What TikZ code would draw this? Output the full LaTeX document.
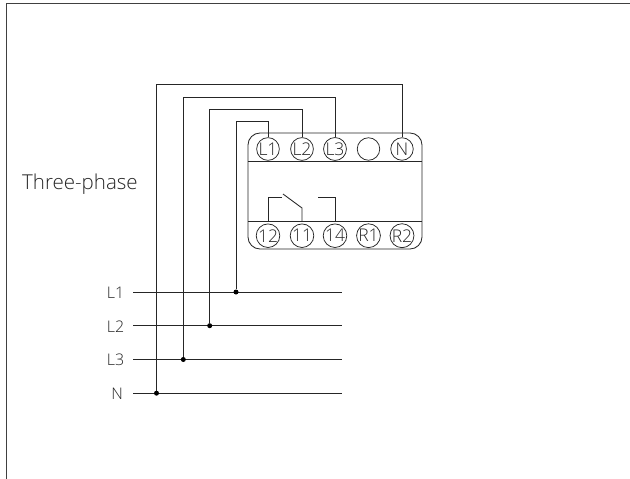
\documentclass[tikz,border=0pt]{standalone}
\usepackage{fontspec}
\setmainfont{Open Sans Light}[BoldFont={Open Sans}]
\begin{document}
\begin{tikzpicture}[x=1pt,y=-1pt,
  wire/.style={draw=black!85,line width=0.85pt},
  term/.style={circle,draw=black!85,line width=0.75pt,minimum size=22.5pt,inner sep=0pt,font=\fontsize{17.5}{17.5}\selectfont,text=black!85},
  lab/.style={font=\fontsize{16}{16}\selectfont,text=black!85,inner sep=0pt,anchor=east},
  dot/.style={circle,fill=black,minimum size=5pt,inner sep=0pt}]
\useasboundingbox (0,0) rectangle (630,479);
\fill[white] (0,0) rectangle (630,479);
% frame
\coordinate (fa) at (6.5,479); \coordinate (fb) at (6.5,3.6); \coordinate (fc) at (630,3.6);
\draw[black!75,line width=0.9pt] (fa) -- (fb) -- (fc);
% device
\node[draw=black!85,line width=0.85pt,rounded corners=12pt,minimum width=174pt,minimum height=116pt,inner sep=0pt] (dev) at (335,191) {};
\coordinate (ml) at (248,161.5); \coordinate (mr) at (422,161.5);
\coordinate (nl) at (248,221.7); \coordinate (nr) at (422,221.7);
\draw[wire] (ml) -- (mr);
\draw[wire] (nl) -- (nr);
% terminals
\node[term] (tL1) at (268,149) {L1};
\node[term] (tL2) at (302,149) {L2};
\node[term] (tL3) at (335,149) {L3};
\node[term] (tE)  at (368.5,149) {};
\node[term] (tN)  at (402,149) {N};
\node[term] (t12) at (268,235.7) {12};
\node[term] (t11) at (302,235.7) {11};
\node[term] (t14) at (335,235.7) {14};
\node[term] (tR1) at (368.5,235.7) {R1};
\node[term] (tR2) at (402,235.7) {R2};
% contacts
\coordinate (s12) at (268,221.7); \coordinate (s12a) at (268,197.7); \coordinate (s12b) at (282,197.7);
\coordinate (bA) at (283,194); \coordinate (bB) at (302,208); \coordinate (s11) at (302,221.7);
\coordinate (s14a) at (318,197.7); \coordinate (s14b) at (335,197.7); \coordinate (s14) at (335,221.7);
\draw[wire] (s12) -- (s12a) -- (s12b);
\draw[wire] (bA) -- (bB) -- (s11);
\draw[wire] (s14a) -- (s14b) -- (s14);
% bus labels and lines
\node[lab] (L1) at (124.5,293) {L1};
\node[lab] (L2) at (124.5,326.5) {L2};
\node[lab] (L3) at (124.5,360) {L3};
\node[lab] (N)  at (123,394) {N};
\coordinate (L1s) at (133,292); \coordinate (L1e) at (342,292);
\coordinate (L2s) at (133,325.7); \coordinate (L2e) at (342,325.7);
\coordinate (L3s) at (133,359.5); \coordinate (L3e) at (342,359.5);
\coordinate (Ns) at (133,393.2); \coordinate (Ne) at (342,393.2);
\draw[wire] (L1s) -- (L1e);
\draw[wire] (L2s) -- (L2e);
\draw[wire] (L3s) -- (L3e);
\draw[wire] (Ns) -- (Ne);
% junctions
\node[dot] (j1) at (236,292) {};
\node[dot] (j2) at (209.7,325.7) {};
\node[dot] (j3) at (183.3,359.5) {};
\node[dot] (j4) at (156.5,393.2) {};
% feeders
\coordinate (k1) at (236,121); \coordinate (k2) at (209.7,109); \coordinate (k3) at (183.3,97); \coordinate (k4) at (156.5,84.5);
\draw[wire] (j1) -- (k1) -| (tL1.north);
\draw[wire] (j2) -- (k2) -| (tL2.north);
\draw[wire] (j3) -- (k3) -| (tL3.north);
\draw[wire] (j4) -- (k4) -| (tN.north);
\node[anchor=west,inner sep=0pt,font=\fontsize{20.5}{20.5}\selectfont,text=black!85] (title) at (22,184) {Three-phase};
\end{tikzpicture}
\end{document}
